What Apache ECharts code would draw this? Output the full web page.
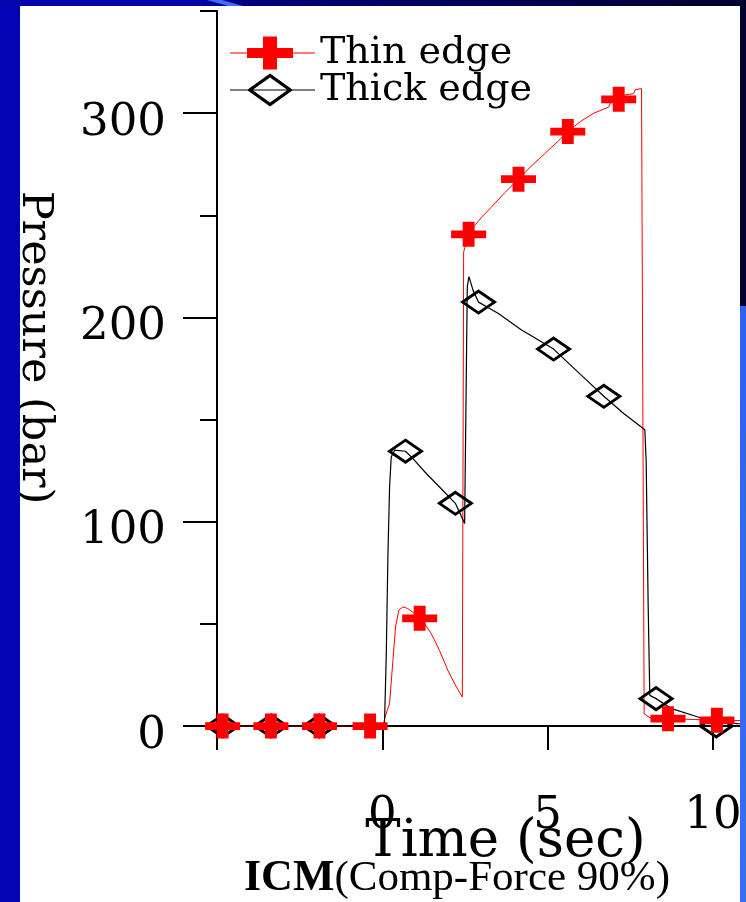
<!DOCTYPE html>
<html>
<head>
<meta charset="utf-8">
<script src="https://cdn.jsdelivr.net/npm/echarts@6.0.0/dist/echarts.min.js"></script>
<style>
html,body{margin:0;padding:0;background:#fff;}
#chart{width:746px;height:902px;background:#fff;}
</style>
</head>
<body>
<div id="chart"></div>
<script>
// ---- data (time in sec, pressure in bar) ----
var thinT = [-5, 0.05, 0.07, 0.22, 0.32, 0.40, 0.50, 0.62, 0.77, 0.98, 1.28, 1.48, 1.73, 1.98, 2.24, 2.42, 2.44, 2.46, 2.61, 2.8, 3.0, 3.3, 3.7, 4.12, 4.5, 4.9, 5.3, 5.61, 6.0, 6.4, 6.85, 6.9, 7.15, 7.3, 7.35, 7.6, 7.65, 7.84, 7.86, 7.92, 8.1, 8.64, 9.4, 10.12, 11];
var thinP = [0, 0, 3.8, 11, 32, 48.5, 56.7, 58.3, 57.5, 55, 50, 45.2, 37, 27.3, 19.1, 14.2, 14, 232, 240.7, 245, 249, 254, 261, 267.7, 274, 280, 286, 291, 296, 300, 303, 305, 306.8, 307, 309, 309.5, 311.5, 312, 312.3, 6, 4, 3.6, 3.2, 2.8, 2.6];
var thickT = [-5, 0.05, 0.07, 0.12, 0.17, 0.22, 0.27, 0.37, 0.70, 0.92, 1.33, 1.73, 2.21, 2.49, 2.54, 2.57, 2.62, 2.75, 2.91, 3.5, 4.2, 5.18, 6.0, 6.7, 7.3, 7.94, 7.98, 8.04, 8.09, 8.28, 8.75, 9.55, 10.05, 10.75, 11];
var thickP = [0, 0, 3.6, 35, 84, 117, 131.7, 135, 134.5, 131, 123.6, 117, 109, 99.1, 99, 215, 220, 213, 207.5, 202, 194, 184.5, 172, 161.4, 153, 145, 130, 60, 15, 13.4, 8.5, 4.4, 2, 1.2, 1];
var thinMarkT = [-4.83, -3.37, -1.9, -0.37, 1.13, 2.61, 4.12, 5.61, 7.15, 8.64, 10.12];
var thinMarkP = [0, 0, 0, 0, 52.7, 240.7, 267.7, 291, 306.8, 3.6, 2.8];
var thickMarkT = [-4.83, -3.37, -1.9, 0.70, 2.21, 2.91, 5.18, 6.70, 8.28, 10.1];
var thickMarkP = [0, 0, 0, 134.5, 109, 207.5, 184.5, 161.4, 13.4, 0];
var xTickValues = [-5, 0, 5, 10];
var xLabelValues = [0, 5, 10];
var yMajorValues = [0, 100, 200, 300];
var yMinorValues = [50, 150, 250, 350];
var seriesNames = ['Thin edge', 'Thick edge'];
var xTitle = 'Time (sec)';
var yTitle = 'Pressure (bar)';
var noteBold = 'ICM';
var noteRest = '(Comp-Force 90%)';

function zip(a, b) { return a.map(function (v, i) { return [v, b[i]]; }); }

var crossPath = 'path://M0,34.5 L33,34.5 L33,0 L67,0 L67,34.5 L100,34.5 L100,65.5 L67,65.5 L67,100 L33,100 L33,65.5 L0,65.5 Z';
var legendCross = 'path://M0,15.9 L85,15.9 L85,17.1 L0,17.1 Z M17,11.5 L33,11.5 L33,0 L47,0 L47,11.5 L63,11.5 L63,21.5 L47,21.5 L47,33 L33,33 L33,21.5 L17,21.5 Z';
var legendDiamond = 'path://M0,15.9 L85,15.9 L85,17.1 L0,17.1 Z M17,16.5 L40,0 L63,16.5 L40,33 Z M22.4,16.5 L40,28.9 L57.6,16.5 L40,4.1 Z';

var serif = 'DejaVu Serif';
var chart = echarts.init(document.getElementById('chart'), null, {renderer: 'canvas'});
chart.setOption({
  animation: false,
  backgroundColor: '#ffffff',
  grid: {left: 217, right: 0, top: 11, bottom: 176, containLabel: false, outerBoundsMode: 'none'},
  title: {
    left: 239, top: 852,
    text: '{b|' + noteBold + '}{n|' + noteRest + '}',
    textStyle: {
      fontWeight: 'normal',
      rich: {
        b: {fontFamily: 'Liberation Serif', fontWeight: 'bold', fontSize: 44, color: '#000'},
        n: {fontFamily: 'Liberation Serif', fontWeight: 'normal', fontSize: 43, color: '#000'}
      }
    }
  },
  legend: {
    orient: 'vertical', left: 230, top: 34, padding: 0, itemWidth: 85, itemHeight: 33, itemGap: -1,
    selectedMode: false,
    textStyle: {fontFamily: serif, fontSize: 38, color: '#000', lineHeight: 36},
    data: [
      {name: seriesNames[0], icon: legendCross, itemStyle: {color: '#ff0000', borderWidth: 0}},
      {name: seriesNames[1], icon: legendDiamond, itemStyle: {color: '#000000', borderWidth: 0}}
    ]
  },
  xAxis: {
    type: 'value', min: -5, max: 11, interval: 5,
    name: xTitle, nameLocation: 'middle', nameGap: 90, nameMoveOverlap: false,
    nameTextStyle: {fontFamily: serif, fontSize: 53, color: '#000', padding: [0, 0, 0, 48]},
    axisLine: {show: true, onZero: false, lineStyle: {color: '#000', width: 2}},
    axisTick: {show: true, customValues: xTickValues, length: 24, lineStyle: {color: '#000', width: 2}},
    axisLabel: {customValues: xLabelValues, fontFamily: serif, fontSize: 45, color: '#000', margin: 68},
    splitLine: {show: false}
  },
  yAxis: [{
    type: 'value', min: 0, max: 350, interval: 50, position: 'left',
    name: yTitle, nameLocation: 'middle', nameRotate: -90, nameGap: 161, nameMoveOverlap: false,
    nameTextStyle: {fontFamily: serif, fontSize: 43, color: '#000', padding: [0, 42, 0, 0]},
    axisLine: {show: true, onZero: false, lineStyle: {color: '#000', width: 2}},
    axisTick: {show: true, customValues: yMajorValues, length: 34, lineStyle: {color: '#000', width: 2}},
    axisLabel: {customValues: yMajorValues, fontFamily: serif, fontSize: 45, color: '#000', margin: 51, verticalAlign: 'top', lineHeight: 20},
    splitLine: {show: false}
  }, {
    type: 'value', min: 0, max: 350, interval: 50, position: 'left', offset: 0,
    axisLine: {show: false, onZero: false},
    axisTick: {show: true, customValues: yMinorValues, length: 17, lineStyle: {color: '#000', width: 2}},
    axisLabel: {show: false},
    splitLine: {show: false}
  }],
  series: [{
    name: seriesNames[0], type: 'line', data: zip(thinT, thinP), symbol: 'none', clip: false, z: 2,
    lineStyle: {color: '#ff0000', width: 1}, itemStyle: {color: '#ff0000'}
  }, {
    name: seriesNames[1], type: 'line', data: zip(thickT, thickP), symbol: 'none', clip: false, z: 2,
    lineStyle: {color: '#000000', width: 1.2}, itemStyle: {color: '#000000'}
  }, {
    name: seriesNames[1], type: 'scatter', data: zip(thickMarkT, thickMarkP), clip: false, z: 3,
    symbol: 'diamond', symbolSize: [32, 22],
    itemStyle: {color: 'rgba(0,0,0,0)', borderColor: '#000', borderWidth: 3, opacity: 1}
  }, {
    name: seriesNames[0], type: 'scatter', data: zip(thinMarkT, thinMarkP), clip: false, z: 4,
    symbol: crossPath, symbolSize: [35, 25],
    itemStyle: {color: '#ff0000', opacity: 1}
  }],
  graphic: [
    {type: 'rect', z: 100, silent: true, shape: {x: 0, y: 0, width: 20, height: 902}, style: {fill: '#0404b4'}},
    {type: 'rect', z: 100, silent: true, shape: {x: 0, y: 0, width: 746, height: 6},
      style: {fill: new echarts.graphic.LinearGradient(0, 0, 1, 0, [{offset: 0, color: '#0404b0'}, {offset: 0.27, color: '#0404a8'}, {offset: 0.33, color: '#00007a'}, {offset: 1, color: '#00002e'}])}},
    {type: 'polygon', z: 101, silent: true, shape: {points: [[207, 0], [222, 0], [243, 6], [228, 6]]}, style: {fill: '#3f6ef2'}},
    {type: 'rect', z: 100, silent: true, shape: {x: 740, y: 0, width: 6, height: 306}, style: {fill: '#00002e'}},
    {type: 'rect', z: 100, silent: true, shape: {x: 740, y: 306, width: 6, height: 596},
      style: {fill: new echarts.graphic.LinearGradient(0, 0, 0, 1, [{offset: 0, color: '#3060f2'}, {offset: 1, color: '#3a6cf8'}])}}
  ]
});
</script>
</body>
</html>
